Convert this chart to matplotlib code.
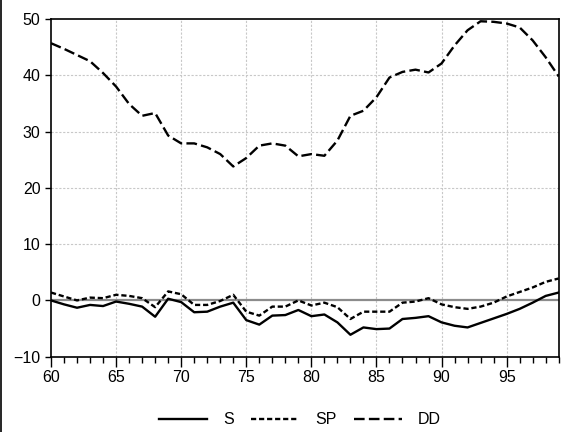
import numpy as np
import matplotlib
matplotlib.use("Agg")
import matplotlib.pyplot as plt
from matplotlib.ticker import MultipleLocator
from matplotlib.lines import Line2D

plt.rcParams["font.family"] = ["Liberation Sans", "DejaVu Sans"]

years = np.arange(60, 100)

s = [0.0, -0.7, -1.3, -0.8, -1.0, -0.2, -0.6, -1.1, -2.9, 0.3,
     -0.3, -2.1, -2.0, -1.1, -0.4, -3.5, -4.3, -2.7, -2.6, -1.7,
     -2.8, -2.5, -3.9, -6.1, -4.8, -5.1, -5.0, -3.3, -3.1, -2.8,
     -3.9, -4.5, -4.8, -4.0, -3.2, -2.4, -1.5, -0.4, 0.8, 1.4]

sp = [1.4, 0.7, 0.0, 0.5, 0.4, 1.0, 0.8, 0.4, -1.2, 1.6,
      1.1, -0.8, -0.8, -0.1, 1.0, -2.0, -2.7, -1.1, -1.1, 0.0,
      -0.9, -0.4, -1.2, -3.3, -2.0, -2.0, -2.0, -0.4, -0.2, 0.4,
      -0.7, -1.2, -1.5, -1.1, -0.4, 0.7, 1.5, 2.3, 3.3, 3.9]

dd = [45.7, 44.7, 43.6, 42.5, 40.4, 38.0, 34.9, 32.8, 33.3, 29.3,
      27.9, 27.9, 27.2, 26.0, 23.8, 25.3, 27.5, 27.9, 27.5, 25.6,
      26.0, 25.7, 28.4, 32.8, 33.7, 36.1, 39.6, 40.6, 41.0, 40.5,
      42.1, 45.3, 48.0, 49.6, 49.5, 49.2, 48.5, 46.2, 43.2, 39.8]

fig = plt.figure(figsize=(5.61, 4.32), dpi=100)
ax = fig.add_axes([0.0909, 0.1743, 0.905, 0.7817])

# grid + zero line
for xv in range(65, 100, 5):
    ax.axvline(xv, color="#c8c8c8", lw=0.8, ls=(0, (2, 1.5)), zorder=0)
for yv in range(10, 50, 10):
    ax.axhline(yv, color="#c8c8c8", lw=0.8, ls=(0, (2, 1.5)), zorder=0)
ax.axhline(0, color="#8c8c8c", lw=1.6, zorder=1)

lw = 1.7
ls_sp = (0, (2.2, 1.2))
ls_dd = (0, (4.5, 1.8))
ax.plot(years, s, color="black", lw=lw, ls="-", label="S", zorder=3)
ax.plot(years, sp, color="black", lw=lw, ls=ls_sp, label="SP", zorder=3)
ax.plot(years, dd, color="black", lw=lw, ls=ls_dd, label="DD", zorder=3)

ax.set_xlim(60, 99)
ax.set_ylim(-10, 50)
ax.xaxis.set_major_locator(MultipleLocator(5))
ax.xaxis.set_minor_locator(MultipleLocator(1))
ax.yaxis.set_major_locator(MultipleLocator(10))
ax.tick_params(axis="x", which="major", direction="out", length=7.5, width=1.0,
               labelsize=11.5, pad=2)
ax.tick_params(axis="x", which="minor", direction="out", length=4.3, width=1.0)
ax.tick_params(axis="y", which="major", direction="out", length=4.5, width=1.0,
               labelsize=11.5, pad=3)
for sp_ in ax.spines.values():
    sp_.set_linewidth(1.2)

handles = [Line2D([], [], color="black", lw=lw, ls="-"),
           Line2D([], [], color="black", lw=lw, ls=ls_sp),
           Line2D([], [], color="black", lw=lw, ls=ls_dd)]
fig.legend(handles, ["S", "SP", "DD"], loc="center", bbox_to_anchor=(0.535, 0.028),
           ncol=3, frameon=False, fontsize=11.5, handlelength=3.0,
           handletextpad=1.0, columnspacing=1.1)

# left frame edge
fig.add_artist(Line2D([0.002, 0.002], [0, 1], color="black", lw=1.2,
                      transform=fig.transFigure))

fig.savefig("out.png", dpi=100)
